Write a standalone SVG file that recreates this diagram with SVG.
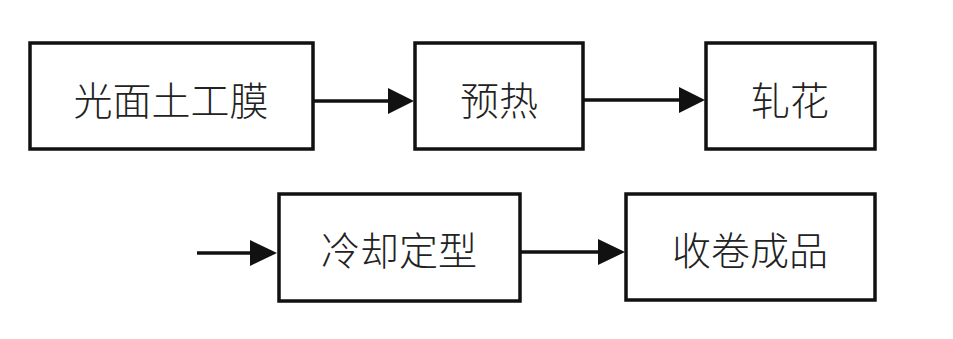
<svg xmlns="http://www.w3.org/2000/svg" width="953" height="339" viewBox="0 0 953 339">
<defs>
<style>
.box{fill:#fff;stroke:#111;stroke-width:3.5}
.lbl{font-family:"Noto Sans CJK SC","Noto Sans",sans-serif;font-size:39px;font-weight:300;fill:#222;text-anchor:middle;dominant-baseline:central}
.ln{stroke:#111;stroke-width:3.5;fill:none}
.hd{fill:#111}
</style>
</defs>
<rect width="953" height="339" fill="#fff"/>
<g id="connectors">
<line class="ln" x1="314" y1="101" x2="390" y2="101"/>
<polygon class="hd" points="388,88 414,101 388,114"/>
<line class="ln" x1="584" y1="100" x2="681" y2="100"/>
<polygon class="hd" points="679,87 705,100 679,113"/>
<line class="ln" x1="197" y1="253" x2="252" y2="253"/>
<polygon class="hd" points="250,240 277,253 250,266"/>
<line class="ln" x1="520" y1="252" x2="600" y2="252"/>
<polygon class="hd" points="598,239 625,252 598,265"/>
</g>
<g id="n1">
<rect class="box" x="30" y="43" width="283" height="106"/>
<text class="lbl" x="171" y="98">光面土工膜</text>
</g>
<g id="n2">
<rect class="box" x="415" y="43" width="168" height="106"/>
<text class="lbl" x="499" y="98">预热</text>
</g>
<g id="n3">
<rect class="box" x="706" y="43" width="169" height="106"/>
<text class="lbl" x="790" y="98">轧花</text>
</g>
<g id="n4">
<rect class="box" x="279" y="194" width="241" height="107"/>
<text class="lbl" x="399" y="248">冷却定型</text>
</g>
<g id="n5">
<rect class="box" x="626" y="194" width="249" height="106"/>
<text class="lbl" x="750" y="248">收卷成品</text>
</g>
</svg>
